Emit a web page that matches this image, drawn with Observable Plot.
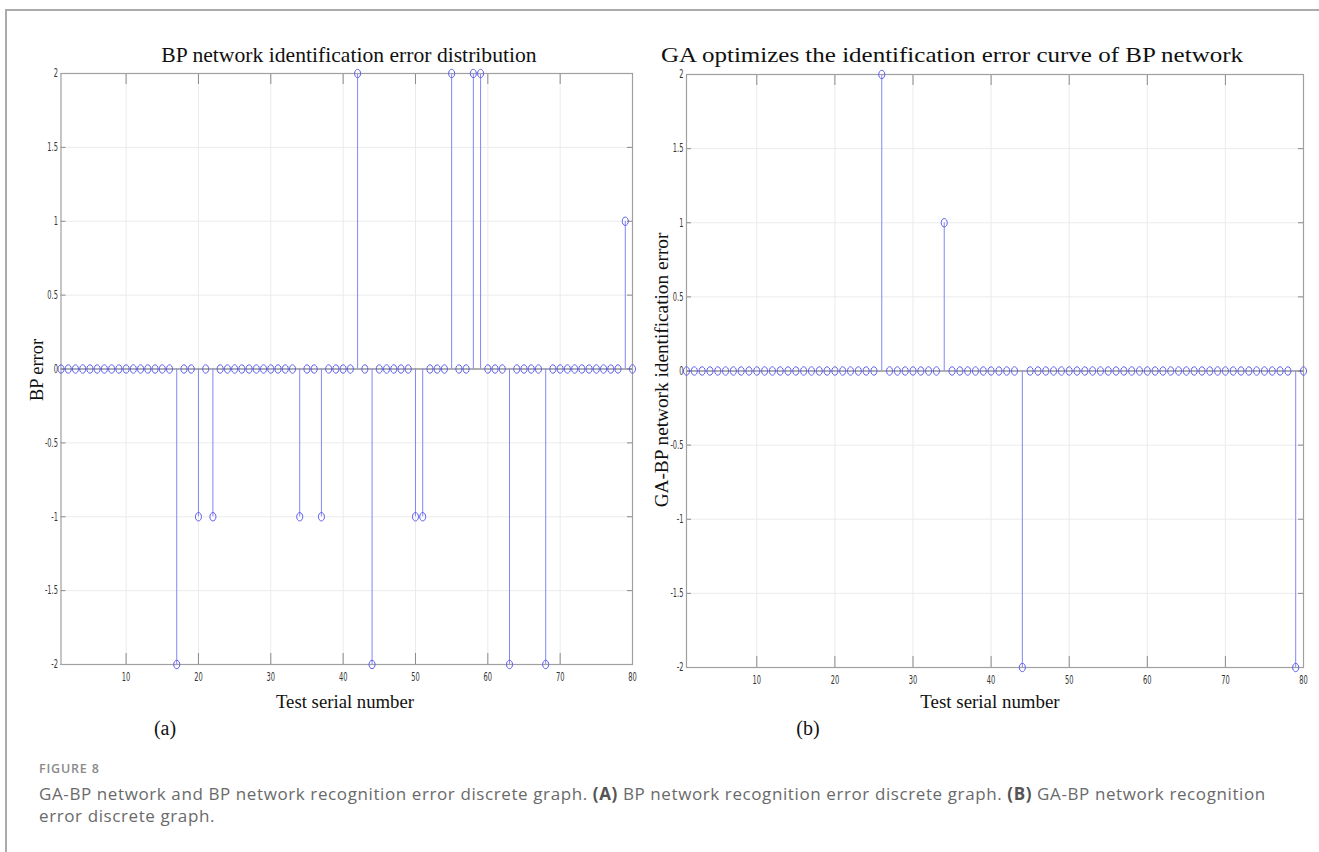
<!DOCTYPE html>
<html><head><meta charset="utf-8">
<script src="https://cdn.jsdelivr.net/npm/d3@7"></script>
<script src="https://cdn.jsdelivr.net/npm/@observablehq/plot@0.6"></script>
<style>
html,body{margin:0;padding:0;background:#fff;}
#root{position:relative;width:1319px;height:852px;overflow:hidden;background:#fff;}
.card{position:absolute;left:5px;top:9px;width:1400px;height:900px;border:2px solid #ababab;box-sizing:border-box;}
.abs{position:absolute;white-space:nowrap;}
.serif{font-family:"Liberation Serif","Times New Roman",serif;color:#111;}
.title{font-size:21px;line-height:21px;}
.xlab{font-size:18px;line-height:18px;}
.sub{font-size:20px;line-height:20px;}
.ylab{font-size:18px;line-height:18px;}
.fig{font-family:"Open Sans","Noto Sans",sans-serif;font-size:12.5px;line-height:14px;color:#8a8a8a;font-weight:600;letter-spacing:0.8px;}
.cap{font-family:"Open Sans","Noto Sans",sans-serif;font-size:17px;line-height:22px;color:#6a6a6a;font-weight:400;letter-spacing:0.6px;}
.cap b{font-weight:700;color:#555;}
svg.panel{position:absolute;}
</style>
</head><body>
<div id="root">
  <div class="card"></div>
</div>
<script>
// ---- data ----
const bpErrors = [
  0,0,0,0,0,0,0,0,0,0,
  0,0,0,0,0,0,-2,0,0,-1,
  0,-1,0,0,0,0,0,0,0,0,
  0,0,0,-1,0,0,-1,0,0,0,
  0,2,0,-2,0,0,0,0,0,-1,
  -1,0,0,0,2,0,0,2,2,0,
  0,0,-2,0,0,0,0,-2,0,0,
  0,0,0,0,0,0,0,0,1,0
];
const gaBpErrors = [
  0,0,0,0,0,0,0,0,0,0,
  0,0,0,0,0,0,0,0,0,0,
  0,0,0,0,0,2,0,0,0,0,
  0,0,0,1,0,0,0,0,0,0,
  0,0,0,-2,0,0,0,0,0,0,
  0,0,0,0,0,0,0,0,0,0,
  0,0,0,0,0,0,0,0,0,0,
  0,0,0,0,0,0,0,0,-2,0
];
const xDomain = [1, 80];
const yDomain = [-2, 2];
const xTicks = [10, 20, 30, 40, 50, 60, 70, 80];
const xTickLabels = ["10","20","30","40","50","60","70","80"];
const yTicks = [-2, -1.5, -1, -0.5, 0, 0.5, 1, 1.5, 2];
const yTickLabels = ["-2","-1.5","-1","-0.5","0","0.5","1","1.5","2"];

const titles = ["BP network identification error distribution", "GA optimizes the identification error curve of BP network"];
const yLabels = ["BP error", "GA-BP network identification error"];
const xLabel = "Test serial number";
const subLabels = ["(a)", "(b)"];

// ---- styles ----
const stemColor = "#8585f5";
const markerColor = "#5c5cf0";
const gridColor = "#ebebeb";
const frameColor = "#a0a0a0";

const ellipse = {
  draw(ctx, size) {
    const r = Math.sqrt(size / Math.PI), rx = r * 0.72, ry = r, k = 0.5523;
    ctx.moveTo(rx, 0);
    ctx.bezierCurveTo(rx, ry * k, rx * k, ry, 0, ry);
    ctx.bezierCurveTo(-rx * k, ry, -rx, ry * k, -rx, 0);
    ctx.bezierCurveTo(-rx, -ry * k, -rx * k, -ry, 0, -ry);
    ctx.bezierCurveTo(rx * k, -ry, rx, -ry * k, rx, 0);
    ctx.closePath();
  }
};

function panel(errors, box) {
  const {left, top, width, height, mL, mR, mT, mB} = box;
  const rows = errors.map((v, i) => ({n: i + 1, v}));
  const innerW = width - mL - mR, innerH = height - mT - mB;
  const svg = Plot.plot({
    width, height,
    marginLeft: mL, marginRight: mR, marginTop: mT, marginBottom: mB,
    x: {domain: xDomain},
    y: {domain: yDomain},
    style: {fontFamily: '"DejaVu Sans Condensed","Liberation Sans Narrow",sans-serif', fontSize: "12px", color: "#333", background: "transparent", overflow: "visible"},
    marks: [
      Plot.gridX(xTicks.slice(0, -1), {x: d => d, stroke: gridColor, strokeOpacity: 1}),
      Plot.gridY(yTicks.slice(1, -1), {y: d => d, stroke: gridColor, strokeOpacity: 1}),
      Plot.tickX(xTicks, {x: d => d, stroke: "#8a8a8a", insetTop: innerH - 11}),
      Plot.tickX(xTicks, {x: d => d, stroke: "#8a8a8a", insetBottom: innerH - 11}),
      Plot.tickY(yTicks, {y: d => d, stroke: "#8a8a8a", insetRight: innerW - 5}),
      Plot.tickY(yTicks, {y: d => d, stroke: "#8a8a8a", insetLeft: innerW - 5}),
      Plot.ruleY([0], {stroke: "#6a6a6a", strokeWidth: 1.2}),
      Plot.ruleX(rows.filter(d => d.v !== 0), {x: "n", y1: 0, y2: "v", stroke: stemColor, strokeWidth: 1}),
      Plot.frame({stroke: frameColor, strokeWidth: 1.2}),
      Plot.dot(rows, {x: "n", y: "v", r: 4.2, symbol: ellipse, stroke: markerColor, strokeWidth: 1, fill: "none"}),
      Plot.axisX({ticks: xTicks, tickFormat: d => xTickLabels[xTicks.indexOf(d)], tickSize: 0, tickPadding: 8, label: null, fill: "#333"}),
      Plot.axisY({ticks: yTicks, tickFormat: d => yTickLabels[yTicks.indexOf(d)], tickSize: 0, tickPadding: 3, label: null, fill: "#333"})
    ]
  });
  // narrow the tick labels horizontally (condensed look of the original)
  svg.querySelectorAll('g[aria-label="x-axis tick label"] text, g[aria-label="y-axis tick label"] text').forEach(t => {
    const tr = t.getAttribute("transform") || "";
    t.setAttribute("transform", tr + " scale(0.62,1)");
  });
  svg.classList.add("panel");
  svg.style.left = left + "px";
  svg.style.top = top + "px";
  return svg;
}

const root = document.getElementById("root");
root.appendChild(panel(bpErrors, {left: 0, top: 0, width: 660, height: 700, mL: 60.5, mR: 28, mT: 73, mB: 36}));
root.appendChild(panel(gaBpErrors, {left: 620, top: 0, width: 699, height: 700, mL: 66, mR: 16, mT: 74, mB: 33}));

function addText(cls, text, x, y, sx, rotate) {
  const d = document.createElement("div");
  d.className = "abs " + cls;
  d.style.left = x + "px";
  d.style.top = y + "px";
  d.style.transform = "translate(-50%,-50%)" + (rotate ? " rotate(-90deg)" : "") + " scale(" + (sx || 1) + ",1)";
  d.textContent = text;
  root.appendChild(d);
  return d;
}
addText("serif title", titles[0], 349, 55, 1.03);
addText("serif title", titles[1], 952, 55, 1.19);
addText("serif xlab", xLabel, 345, 702, 1.04);
addText("serif xlab", xLabel, 990, 702, 1.05);
addText("serif sub", subLabels[0], 165, 728, 1);
addText("serif sub", subLabels[1], 808, 728, 1);
addText("serif ylab", yLabels[0], 37, 370, 1.02, true);
addText("serif ylab", yLabels[1], 662, 370, 1.07, true);
const fig = document.createElement("div");
fig.className = "abs fig";
fig.style.left = "39px"; fig.style.top = "762px";
fig.textContent = "FIGURE 8";
root.appendChild(fig);
const cap = document.createElement("div");
cap.className = "abs cap";
cap.style.left = "39px"; cap.style.top = "783px";
cap.innerHTML = "GA-BP network and BP network recognition error discrete graph. <b>(A)</b> BP network recognition error discrete graph. <b>(B)</b> GA-BP network recognition<br>error discrete graph.";
root.appendChild(cap);
</script>
</body></html>
